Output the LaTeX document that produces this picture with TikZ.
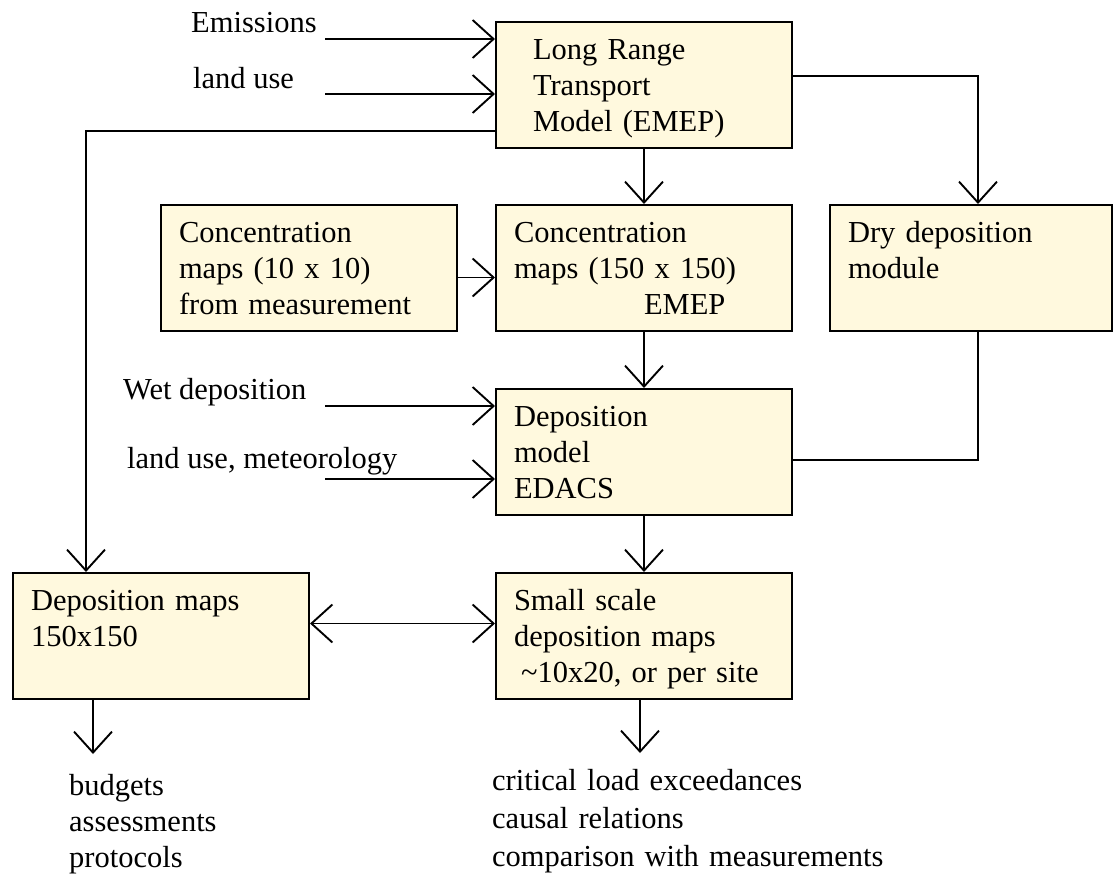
\documentclass[tikz,border=0pt]{standalone}
\usepackage{fontspec}
\setmainfont{Liberation Serif}
\usetikzlibrary{arrows.meta}
\definecolor{boxfill}{RGB}{255,249,222}
\tikzset{
	box/.style={draw, fill=boxfill, line width=2pt, anchor=north west, align=left,
		text width=260pt, inner xsep=18pt, inner ysep=0pt, text height=37pt, text depth=89pt},
	lbl/.style={anchor=base west, inner sep=0pt},
	barb/.tip={Straight Barb[length=21pt,width=38pt]},
	arr/.style={line width=1.9pt, -barb},
	conn/.style={line width=1.9pt},
}
\begin{document}
\begin{tikzpicture}[x=1pt, y=-1pt, font=\fontsize{30.5pt}{36pt}\selectfont]
			%%%%% START %%%%%
			\useasboundingbox (0,0) rectangle (1113,876);
			
			\node[box] (lrt) at (495,21) {\hspace*{19pt}Long Range\\\hspace*{19pt}Transport\\\hspace*{19pt}Model (EMEP)};
			\node[box] (conc10) at (160,204) {Concentration\\maps (10 x 10)\\from measurement};
			\node[box] (conc150) at (495,204) {Concentration\\maps (150 x 150)\\\hspace*{130pt}EMEP};
			\node[box, text width=246pt] (dry) at (829,204) {Dry deposition\\module};
			\node[box] (depmod) at (495,388) {Deposition\\model\\EDACS};
			\node[box] (depmaps) at (12,572) {Deposition maps\\150x150};
			\node[box] (small) at (495,572) {Small scale\\deposition maps\\\hspace*{7pt}\textasciitilde 10x20, or per site};
			
			\node[lbl] (emis) at (191,32) {Emissions};
			\node[lbl] (landuse) at (193,88) {land use};
			\node[lbl] (wet) at (123,399) {Wet deposition};
			\node[lbl] (landmet) at (127,468) {land use, meteorology};
			\node[lbl, text width=200pt, align=left] (outleft) at (69,795) {budgets\\assessments\\protocols};
			\node[lbl, text width=450pt, align=left, font=\fontsize{30.5pt}{38pt}\selectfont] (outright) at (492,790)
				{critical load exceedances\\causal relations\\comparison with measurements};
			
			\coordinate (emisin) at (325,39);
			\coordinate (landin) at (325,94);
			\coordinate (wetin) at (325,406);
			\coordinate (metin) at (325,479);
			\coordinate (fbturn) at (86,131);
			\coordinate (dryturn) at (978,76);
			\coordinate (drybot) at (978,460);
			\coordinate (outl) at (93,754);
			\coordinate (outr) at (640,753);
			
			\draw[arr] (emisin) -- (emisin -| lrt.west);
			\draw[arr] (landin) -- (landin -| lrt.west);
			\draw[arr] (fbturn -| lrt.west) -- (fbturn) -- (fbturn |- depmaps.north);
			\draw[arr] (lrt.south) -- (conc150.north);
			\draw[arr] (dryturn -| lrt.east) -- (dryturn) -- (dryturn |- dry.north);
			\draw[arr] ([yshift=-9.5pt]conc10.east) -- ([yshift=-9.5pt]conc150.west);
			\draw[arr] (conc150.south) -- (depmod.north);
			\draw[arr] (wetin) -- (wetin -| depmod.west);
			\draw[arr] (metin) -- (metin -| depmod.west);
			\draw[conn] (drybot |- dry.south) -- (drybot) -- (drybot -| depmod.east);
			\draw[arr] (depmod.south) -- (small.north);
			\draw[arr, barb-barb] ([yshift=12.5pt]depmaps.east) -- ([yshift=12.5pt]small.west);
			\draw[arr] (outl |- depmaps.south) -- (outl);
			\draw[arr] (outr |- small.south) -- (outr);
			%%%%% END %%%%%
\end{tikzpicture}
\end{document}
